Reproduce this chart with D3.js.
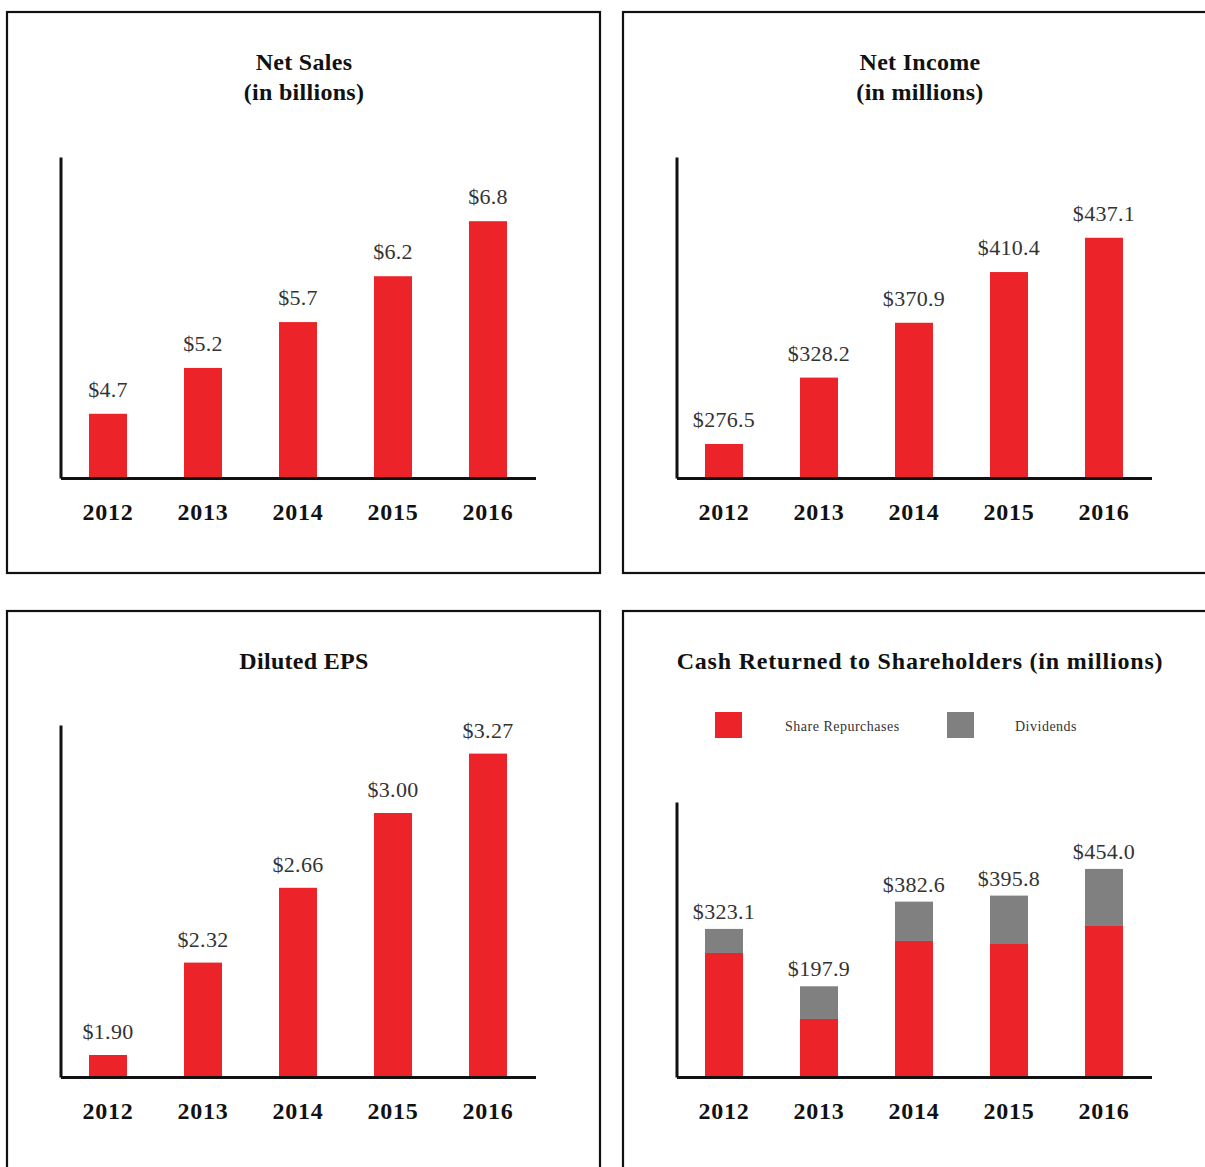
<!DOCTYPE html>
<html>
<head>
<meta charset="utf-8">
<script src="https://cdn.jsdelivr.net/npm/d3@7"></script>
<style>
  html, body { margin: 0; padding: 0; background: #fff; }
  svg { display: block; }
  text { font-family: "Liberation Serif", "Times New Roman", serif; }
</style>
</head>
<body>
<svg id="chart" width="1205" height="1167"></svg>
<script>
// ---- data ----
const years = ["2012", "2013", "2014", "2015", "2016"];
const netSales = [4.7, 5.2, 5.7, 6.2, 6.8];
const netSalesLabels = ["$4.7", "$5.2", "$5.7", "$6.2", "$6.8"];
const netIncome = [276.5, 328.2, 370.9, 410.4, 437.1];
const netIncomeLabels = ["$276.5", "$328.2", "$370.9", "$410.4", "$437.1"];
const dilutedEPS = [1.90, 2.32, 2.66, 3.00, 3.27];
const dilutedEPSLabels = ["$1.90", "$2.32", "$2.66", "$3.00", "$3.27"];
const shareRepurchases = [270.6, 126.6, 296.8, 290.2, 329.5];
const dividends = [52.5, 71.3, 85.8, 105.6, 124.5];
const cashTotalLabels = ["$323.1", "$197.9", "$382.6", "$395.8", "$454.0"];
const seriesNames = ["Share Repurchases", "Dividends"];

const RED = "#ec2328";
const GRAY = "#808080";

const svg = d3.select("#chart");

// panel frames
const panels = [
  {x: 7, y: 12, w: 593, h: 561},
  {x: 623, y: 12, w: 600, h: 561},
  {x: 7, y: 611, w: 593, h: 600},
  {x: 623, y: 611, w: 600, h: 600}
];
svg.selectAll("rect.frame").data(panels).join("rect")
  .attr("class", "frame")
  .attr("x", d => d.x).attr("y", d => d.y)
  .attr("width", d => d.w).attr("height", d => d.h)
  .attr("fill", "none").attr("stroke", "#111").attr("stroke-width", 2.2);

function titleLines(cx, y0, lines, size, spacing) {
  lines.forEach((t, i) => {
    svg.append("text")
      .attr("x", cx).attr("y", y0 + i * 30)
      .attr("text-anchor", "middle")
      .attr("font-size", size).attr("font-weight", "bold")
      .attr("letter-spacing", spacing || 0)
      .attr("fill", "#111")
      .text(t);
  });
}

function barChart(opts) {
  const g = svg.append("g");
  const x = d3.scaleBand().domain(years)
    .range([opts.x0, opts.x0 + 475])
    .paddingInner(0.6).paddingOuter(0.3);
  const y = d3.scaleLinear().domain(opts.domain).range([opts.base, opts.top]);

  let tops;
  if (opts.stacks) {
    const rows = years.map((yr, i) => ({year: yr, "Share Repurchases": opts.stacks[0][i], "Dividends": opts.stacks[1][i]}));
    const stacked = d3.stack().keys(seriesNames)(rows);
    const colors = [RED, GRAY];
    g.selectAll("g.layer").data(stacked).join("g")
      .attr("class", "layer")
      .attr("fill", (d, i) => colors[i])
      .selectAll("rect").data(d => d).join("rect")
      .attr("x", d => x(d.data.year))
      .attr("width", x.bandwidth())
      .attr("y", d => y(d[1]))
      .attr("height", d => y(d[0]) - y(d[1]));
    tops = years.map((yr, i) => opts.stacks[0][i] + opts.stacks[1][i]);
  } else {
    g.selectAll("rect.bar").data(opts.values).join("rect")
      .attr("class", "bar")
      .attr("x", (d, i) => x(years[i]))
      .attr("width", x.bandwidth())
      .attr("y", d => y(d))
      .attr("height", d => opts.base - y(d))
      .attr("fill", RED);
    tops = opts.values;
  }
  g.selectAll("text.val").data(tops).join("text")
    .attr("class", "val")
    .attr("x", (d, i) => x(years[i]) + x.bandwidth() / 2)
    .attr("y", d => y(d) - opts.labelGap)
    .attr("text-anchor", "middle")
    .attr("font-size", 22).attr("fill", "#333")
    .attr("letter-spacing", 0.3)
    .text((d, i) => opts.labels[i]);

  // axes
  const yAxis = g.append("g")
    .attr("transform", `translate(${opts.x0},0)`)
    .call(d3.axisLeft(y).tickValues([]).tickSizeOuter(0));
  yAxis.select(".domain").attr("stroke", "#111").attr("stroke-width", 3);

  const xAxis = g.append("g")
    .attr("transform", `translate(0,${opts.base})`)
    .call(d3.axisBottom(x).tickSize(0).tickSizeOuter(0));
  xAxis.select(".domain").attr("stroke", "#111").attr("stroke-width", 3);
  xAxis.selectAll(".tick text")
    .attr("y", 42).attr("dy", 0)
    .attr("font-size", 24).attr("font-weight", "bold")
    .attr("letter-spacing", 0.8)
    .attr("fill", "#111");
}

// Panels
titleLines(304, 70, ["Net Sales", "(in billions)"], 24, 0.3);
barChart({x0: 60.5, base: 478, top: 157, domain: [4, 7.5], values: netSales, labels: netSalesLabels, labelGap: 17});

titleLines(920, 70, ["Net Income", "(in millions)"], 24, 0.3);
barChart({x0: 676.5, base: 478, top: 157, domain: [250, 500], values: netIncome, labels: netIncomeLabels, labelGap: 17});

titleLines(304, 669, ["Diluted EPS"], 24, 0.3);
barChart({x0: 60.5, base: 1077, top: 725, domain: [1.8, 3.4], values: dilutedEPS, labels: dilutedEPSLabels, labelGap: 16});

titleLines(920, 669, ["Cash Returned to Shareholders (in millions)"], 24, 0.8);
barChart({x0: 676.5, base: 1077, top: 802, domain: [0, 600], stacks: [shareRepurchases, dividends], labels: cashTotalLabels, labelGap: 10});

// legend
const legendItems = [
  {name: seriesNames[0], color: RED, sx: 715, tx: 785},
  {name: seriesNames[1], color: GRAY, sx: 947, tx: 1015}
];
const lg = svg.selectAll("g.legend").data(legendItems).join("g").attr("class", "legend");
lg.append("rect").attr("x", d => d.sx).attr("y", 712).attr("width", 27).attr("height", 26).attr("fill", d => d.color);
lg.append("text").attr("x", d => d.tx).attr("y", 731).attr("font-size", 14).attr("letter-spacing", 0.5).attr("fill", "#333").text(d => d.name);
</script>
</body>
</html>
